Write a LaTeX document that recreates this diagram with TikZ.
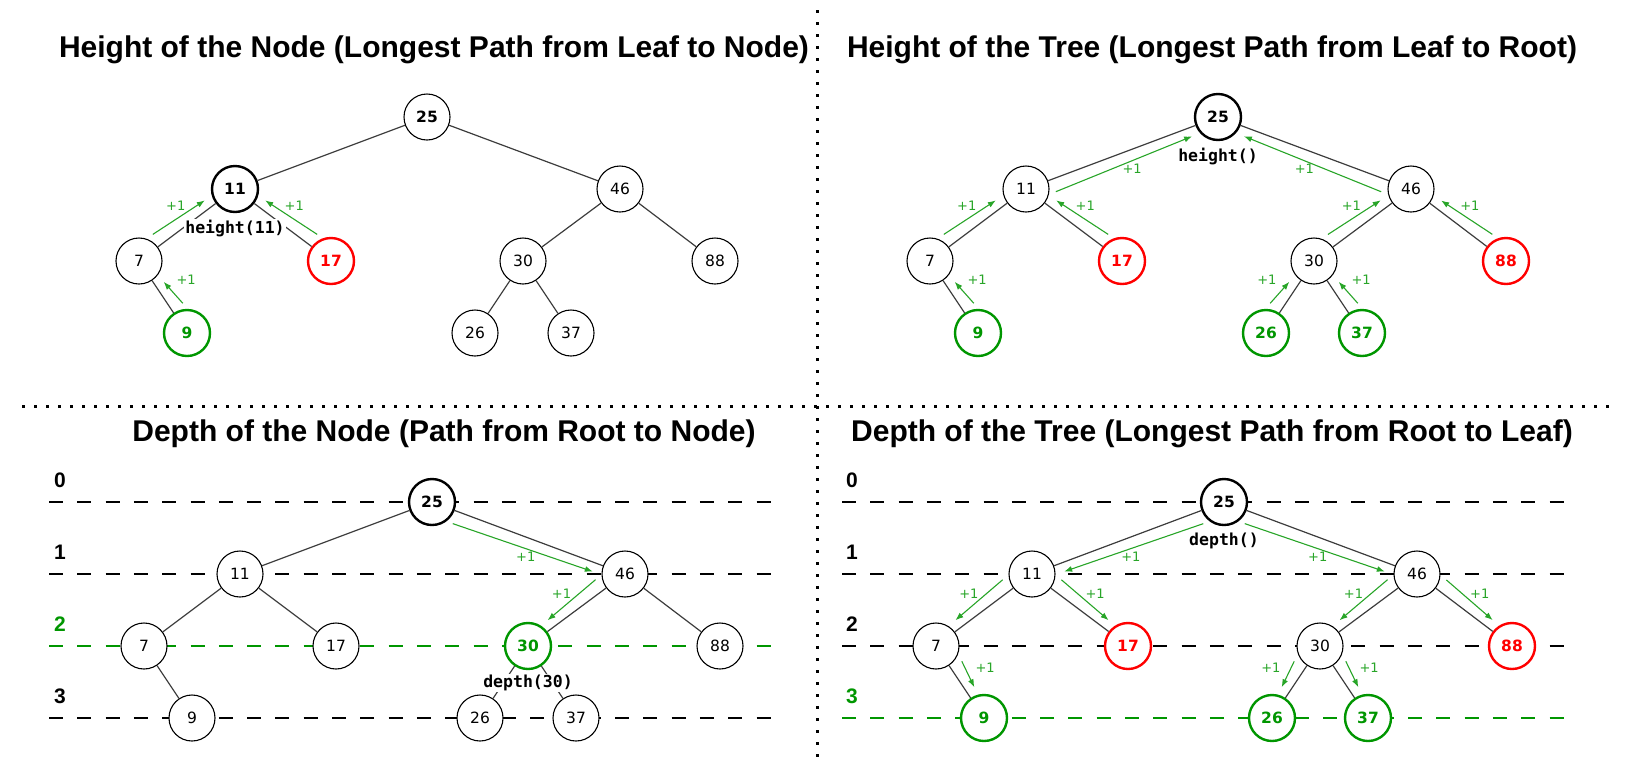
\documentclass[tikz,border=0pt]{standalone}
\usepackage{fontspec}
\setmainfont{Liberation Sans}
\newfontfamily\numfont{DejaVu Sans}
\newfontfamily\codefont{DejaVu Sans Mono}
\usetikzlibrary{arrows.meta,positioning,calc}

\definecolor{treegreen}{RGB}{0,150,0}
\definecolor{arrowgreen}{RGB}{40,165,40}
\definecolor{edgegray}{RGB}{60,60,60}

% +1 arrow beside an edge: [label offset]{from}{to}{side: 90 left, -90 right}
\newcommand{\plusone}[4][22pt]{%
  \draw[incr] ($(#2)!27pt!(#3)!13pt!#4:(#3)$) -- ($(#3)!31pt!(#2)!9pt!#4:(#3)$);
  \node[inclabel] (#2#3) at ($(#2)!0.52!(#3)!#1!#4:(#3)$) {+1};
}

\begin{document}
\begin{tikzpicture}[x=1pt, y=-1pt,
  vtx/.style={circle, draw=black, fill=white, line width=1.1pt, minimum size=46pt,
    inner sep=0pt, font=\numfont\fontsize{15.5}{18}\selectfont},
  boldnum/.style={font=\numfont\bfseries\fontsize{15.5}{18}\selectfont},
  hinode/.style={boldnum, line width=2.4pt},
  grnnode/.style={hinode, draw=treegreen, text=treegreen},
  rednode/.style={hinode, draw=red, text=red},
  link/.style={draw=edgegray, line width=1.2pt},
  incr/.style={draw=arrowgreen, line width=1.1pt, -{Latex[length=8pt, width=6pt]}},
  inclabel/.style={text=arrowgreen, inner sep=0pt, font=\numfont\fontsize{13}{15}\selectfont},
  fnlabel/.style={fill=white, inner sep=1pt, font=\codefont\bfseries\fontsize{16.5}{18}\selectfont},
  title/.style={anchor=base, font=\bfseries\fontsize{30}{36}\selectfont},
  levnum/.style={anchor=base, font=\bfseries\fontsize{21}{25}\selectfont},
  levelline/.style={line width=1.3pt, dash pattern=on 14pt off 14.3pt},
  sepline/.style={line width=3pt, dash pattern=on 3pt off 9pt}]
  \useasboundingbox (0,0) rectangle (1630,780);

  % separators
  \draw[sepline] (817,10) -- (817,758);
  \draw[sepline] (22,406) -- (1610,406);

  % titles
  \node[title] (ttl-a) at (434,57) {Height of the Node (Longest Path from Leaf to Node)};
  \node[title] (ttl-b) at (1212,57) {Height of the Tree (Longest Path from Leaf to Root)};
  \node[title] (ttl-c) at (444,441) {Depth of the Node (Path from Root to Node)};
  \node[title] (ttl-d) at (1212,441) {Depth of the Tree (Longest Path from Root to Leaf)};

  % depth levels
  \foreach \lev/\yy/\ca/\cb in {0/502/black/black, 1/574/black/black,
      2/646/treegreen/black, 3/718/black/treegreen} {
    \draw[levelline, draw=\ca] (49,\yy) -- (783,\yy);
    \node[levnum, text=\ca] (c-lev\lev) at (60,\yy-15) {\lev};
    \draw[levelline, draw=\cb] (842,\yy) -- (1575,\yy);
    \node[levnum, text=\cb] (d-lev\lev) at (852,\yy-15) {\lev};
  }

  % height of the node
  \begin{scope}[shift={(427,117)}]
    \node[vtx, boldnum] (a25) at (0,0) {25};
    \node[vtx, hinode] (a11) at (-192,72) {11};
    \node[vtx] (a46) at (193,72) {46};
    \node[vtx] (a7) at (-288,144) {7};
    \node[vtx, rednode] (a17) at (-96,144) {17};
    \node[vtx] (a30) at (96,144) {30};
    \node[vtx] (a88) at (288,144) {88};
    \node[vtx, grnnode] (a9) at (-240,216) {9};
    \node[vtx] (a26) at (48,216) {26};
    \node[vtx] (a37) at (144,216) {37};
  \end{scope}

  % height of the tree
  \begin{scope}[shift={(1218,117)}]
    \node[vtx, hinode] (b25) at (0,0) {25};
    \node[vtx] (b11) at (-192,72) {11};
    \node[vtx] (b46) at (193,72) {46};
    \node[vtx] (b7) at (-288,144) {7};
    \node[vtx, rednode] (b17) at (-96,144) {17};
    \node[vtx] (b30) at (96,144) {30};
    \node[vtx, rednode] (b88) at (288,144) {88};
    \node[vtx, grnnode] (b9) at (-240,216) {9};
    \node[vtx, grnnode] (b26) at (48,216) {26};
    \node[vtx, grnnode] (b37) at (144,216) {37};
  \end{scope}

  % depth of the node
  \begin{scope}[shift={(432,502)}]
    \node[vtx, hinode] (c25) at (0,0) {25};
    \node[vtx] (c11) at (-192,72) {11};
    \node[vtx] (c46) at (193,72) {46};
    \node[vtx] (c7) at (-288,144) {7};
    \node[vtx] (c17) at (-96,144) {17};
    \node[vtx, grnnode] (c30) at (96,144) {30};
    \node[vtx] (c88) at (288,144) {88};
    \node[vtx] (c9) at (-240,216) {9};
    \node[vtx] (c26) at (48,216) {26};
    \node[vtx] (c37) at (144,216) {37};
  \end{scope}

  % depth of the tree
  \begin{scope}[shift={(1224,502)}]
    \node[vtx, hinode] (d25) at (0,0) {25};
    \node[vtx] (d11) at (-192,72) {11};
    \node[vtx] (d46) at (193,72) {46};
    \node[vtx] (d7) at (-288,144) {7};
    \node[vtx, rednode] (d17) at (-96,144) {17};
    \node[vtx] (d30) at (96,144) {30};
    \node[vtx, rednode] (d88) at (288,144) {88};
    \node[vtx, grnnode] (d9) at (-240,216) {9};
    \node[vtx, grnnode] (d26) at (48,216) {26};
    \node[vtx, grnnode] (d37) at (144,216) {37};
  \end{scope}

  % edges
  \foreach \p in {a,b,c,d} {
    \foreach \u/\v in {25/11, 25/46, 11/7, 11/17, 46/30, 46/88, 7/9, 30/26, 30/37}
      \draw[link] (\p\u) -- (\p\v);
  }

  % function calls
  \node[fnlabel, below=6pt of a11] (a11fn) {height(11)};
  \node[fnlabel, below=6pt of b25] (b25fn) {height()};
  \node[fnlabel, below=4pt of c30] (c30fn) {depth(30)};
  \node[fnlabel, below=6pt of d25] (d25fn) {depth()};

  % +1 steps
  \plusone[29pt]{a9}{a7}{-90}
  \plusone{a7}{a11}{90}
  \plusone{a17}{a11}{-90}

  \plusone[29pt]{b9}{b7}{-90}
  \plusone{b7}{b11}{90}
  \plusone{b17}{b11}{-90}
  \plusone[18pt]{b11}{b25}{-90}
  \plusone[29pt]{b26}{b30}{90}
  \plusone[29pt]{b37}{b30}{-90}
  \plusone{b30}{b46}{90}
  \plusone{b88}{b46}{-90}
  \plusone[18pt]{b46}{b25}{90}

  \plusone[19pt]{c25}{c46}{-90}
  \plusone{c46}{c30}{-90}

  \plusone[19pt]{d25}{d11}{90}
  \plusone[19pt]{d25}{d46}{-90}
  \plusone{d11}{d7}{-90}
  \plusone{d11}{d17}{90}
  \plusone{d46}{d30}{-90}
  \plusone{d46}{d88}{90}
  \plusone[29pt]{d7}{d9}{90}
  \plusone[29pt]{d30}{d26}{-90}
  \plusone[29pt]{d30}{d37}{90}
\end{tikzpicture}
\end{document}
